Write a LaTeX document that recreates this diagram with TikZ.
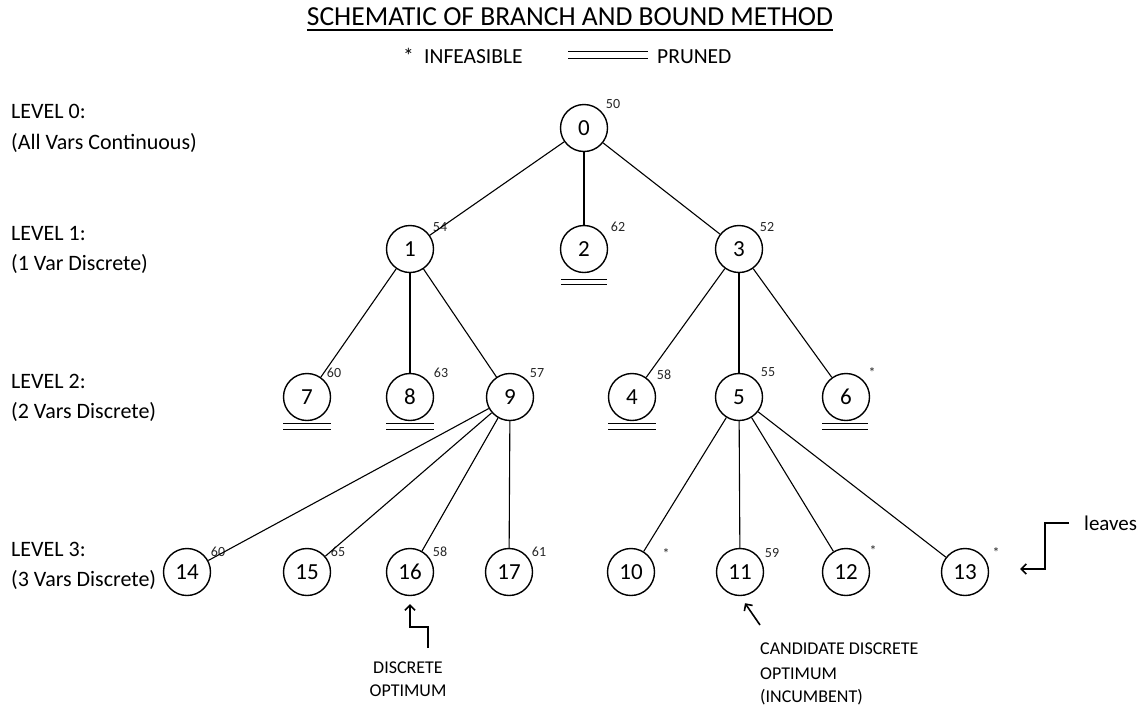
\documentclass[tikz,border=0pt]{standalone}
\usepackage{fontspec}
\setmainfont{Carlito}
\usetikzlibrary{arrows.meta}
\tikzset{
  bbnode/.style={circle,draw,line width=1.4pt,minimum size=47pt,inner sep=0pt,font=\fontsize{23}{27}\selectfont},
  bound/.style={inner sep=0pt,text=black!85,font=\fontsize{14}{16}\selectfont},
  edge/.style={line width=1.1pt},
  pruned/.style={double,double distance=4.3pt,line width=1.2pt},
  pointer/.style={line width=1.6pt,-{Straight Barb[length=5pt,width=10pt]}},
  levellabel/.style={anchor=base west,inner sep=0pt,font=\fontsize{22}{26}\selectfont},
  note/.style={anchor=base,inner sep=0pt,font=\fontsize{18}{22}\selectfont}
}
\begin{document}
\begin{tikzpicture}[x=1pt,y=-1pt]
\useasboundingbox (0,0) rectangle (1139,713);
% title and legend
\path (570,25) node[anchor=base,inner sep=0pt,font=\fontsize{27.5}{33}\selectfont] (title) {SCHEMATIC OF BRANCH AND BOUND METHOD};
\draw[line width=1.3pt] ([yshift=-5pt]title.base west) -- ([yshift=-5pt]title.base east);
\path (403,63) node[levellabel,font=\fontsize{21.5}{25}\selectfont] (legStar) {*};
\path (424,63) node[levellabel,font=\fontsize{21.5}{25}\selectfont] (legInf) {INFEASIBLE};
\path (657,63) node[levellabel,font=\fontsize{21.5}{25}\selectfont] (legPruned) {PRUNED};
\draw[pruned,double distance=5.5pt] ([xshift=-89pt,yshift=8pt]legPruned.base west) -- ([xshift=-9pt,yshift=8pt]legPruned.base west);
% level labels
\path (11,118) node[levellabel] (lev0) {LEVEL 0:};
\path (11,149) node[levellabel] (lev0b) {(All Vars Continuous)};
\path (11,240) node[levellabel] (lev1) {LEVEL 1:};
\path (11,270) node[levellabel] (lev1b) {(1 Var Discrete)};
\path (11,388) node[levellabel] (lev2) {LEVEL 2:};
\path (11,418) node[levellabel] (lev2b) {(2 Vars Discrete)};
\path (11,556) node[levellabel] (lev3) {LEVEL 3:};
\path (11,586) node[levellabel] (lev3b) {(3 Vars Discrete)};
% tree nodes
\path (584,128) node[bbnode] (node0) {0};
\path (410,249) node[bbnode] (node1) {1};
\path (584,249) node[bbnode] (node2) {2};
\path (739,249) node[bbnode] (node3) {3};
\path (307,397) node[bbnode] (node7) {7};
\path (410,397) node[bbnode] (node8) {8};
\path (510,397) node[bbnode] (node9) {9};
\path (632,397) node[bbnode] (node4) {4};
\path (739,397) node[bbnode] (node5) {5};
\path (846,397) node[bbnode] (node6) {6};
\path (187,572) node[bbnode] (node14) {14};
\path (307,572) node[bbnode] (node15) {15};
\path (410,572) node[bbnode] (node16) {16};
\path (509,572) node[bbnode] (node17) {17};
\path (631,572) node[bbnode] (node10) {10};
\path (740,572) node[bbnode] (node11) {11};
\path (846,572) node[bbnode] (node12) {12};
\path (965,572) node[bbnode] (node13) {13};
% bounds
\path (613,104) node[bound] (bound0) {50};
\path (440,227) node[bound] (bound1) {54};
\path (618,227) node[bound] (bound2) {62};
\path (767,227) node[bound] (bound3) {52};
\path (334,373) node[bound] (bound7) {60};
\path (441,373) node[bound] (bound8) {63};
\path (537,373) node[bound] (bound9) {57};
\path (664,375) node[bound] (bound4) {58};
\path (768,372) node[bound] (bound5) {55};
\path (872,373) node[bound] (bound6) {*};
\path (218,552) node[bound] (bound14) {60};
\path (338,552) node[bound] (bound15) {65};
\path (440,552) node[bound] (bound16) {58};
\path (539,552) node[bound] (bound17) {61};
\path (666,554) node[bound] (bound10) {*};
\path (772,553) node[bound] (bound11) {59};
\path (873,551) node[bound] (bound12) {*};
\path (996,553) node[bound] (bound13) {*};
% branches
\draw[edge] (node0) -- (node1);
\draw[edge] (node0) -- (node2);
\draw[edge] (node0) -- (node3);
\draw[edge] (node1) -- (node7);
\draw[edge] (node1) -- (node8);
\draw[edge] (node1) -- (node9);
\draw[edge] (node3) -- (node4);
\draw[edge] (node3) -- (node5);
\draw[edge] (node3) -- (node6);
\draw[edge] (node9) -- (node14);
\draw[edge] (node9) -- (node15);
\draw[edge] (node9) -- (node16);
\draw[edge] (node9) -- (node17);
\draw[edge] (node5) -- (node10);
\draw[edge] (node5) -- (node11);
\draw[edge] (node5) -- (node12);
\draw[edge] (node5) -- (node13);
% pruned marks
\draw[pruned] ([xshift=-23pt,yshift=-8.8pt]node2.south) -- ([xshift=23pt,yshift=-8.8pt]node2.south);
\draw[pruned] ([xshift=-24pt,yshift=-5.3pt]node7.south) -- ([xshift=24pt,yshift=-5.3pt]node7.south);
\draw[pruned] ([xshift=-24pt,yshift=-5.3pt]node8.south) -- ([xshift=24pt,yshift=-5.3pt]node8.south);
\draw[pruned] ([xshift=-24pt,yshift=-5.3pt]node4.south) -- ([xshift=24pt,yshift=-5.3pt]node4.south);
\draw[pruned] ([xshift=-24pt,yshift=-5.3pt]node6.south) -- ([xshift=22pt,yshift=-5.3pt]node6.south);
% notes
\path (408,673) node[note] (optA) {DISCRETE};
\path (408,696) node[note] (optB) {OPTIMUM};
\coordinate (optTail) at (428,648);
\draw[pointer] (optTail) -- ++(0,-21) -| ([yshift=-8pt]node16.south);
\path (760,654) node[note,anchor=base west] (incA) {CANDIDATE DISCRETE};
\path (760,679) node[note,anchor=base west] (incB) {OPTIMUM};
\path (760,702) node[note,anchor=base west] (incC) {(INCUMBENT)};
\coordinate (incTail) at (760,625);
\draw[pointer] (incTail) -- ([xshift=5pt,yshift=-7pt]node11.south);
\path (1081,530) node[levellabel,font=\fontsize{21}{25}\selectfont,inner sep=3pt] (leaves) {leaves};
\draw[pointer] ([xshift=-12pt]leaves.west) -- ++(-24,0) |- ([xshift=31pt,yshift=3pt]node13.east);
\end{tikzpicture}
\end{document}
